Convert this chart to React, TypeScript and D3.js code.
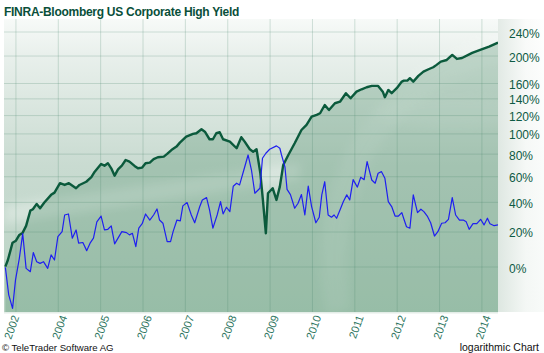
import React from 'react';
import * as d3 from 'd3';

const title = 'FINRA-Bloomberg US Corporate High Yield';
const yTickValues = [0, 20, 40, 60, 80, 100, 120, 140, 160, 200, 240];
const xGridYears = [2003, 2004, 2005, 2006, 2007, 2008, 2009, 2010, 2011, 2012, 2013, 2014];
const xLabelYears = [2002.87, 2004, 2005, 2006, 2007, 2008, 2009, 2010, 2011, 2012, 2013, 2014];
const xLabelTexts = ['2002', '2004', '2005', '2006', '2007', '2008', '2009', '2010', '2011', '2012', '2013', '2014'];

// cumulative performance (%), [decimal year, value]
const greenSeries: [number, number][] = [
  [2002.75, 0.2], [2002.81, 3.7], [2002.92, 13.5], [2003.0, 14.7], [2003.08, 18.2], [2003.16, 19.6],
  [2003.24, 23.9], [2003.34, 34.1], [2003.4, 35.1], [2003.49, 38.9], [2003.57, 35.8], [2003.67, 39.9],
  [2003.83, 45.6], [2003.91, 47.3], [2004.04, 54.7], [2004.15, 53.3], [2004.25, 54.7], [2004.42, 50.7],
  [2004.5, 53.3], [2004.66, 55.9], [2004.78, 59.6], [2004.86, 64.3], [2005.01, 71.0], [2005.09, 69.5],
  [2005.17, 71.7], [2005.25, 67.2], [2005.33, 60.9], [2005.41, 66.3], [2005.5, 69.5], [2005.59, 74.6],
  [2005.68, 73.1], [2005.8, 69.3], [2005.88, 67.2], [2005.98, 67.8], [2006.06, 71.7], [2006.16, 72.2],
  [2006.25, 75.3], [2006.35, 77.1], [2006.49, 77.7], [2006.57, 80.2], [2006.67, 83.9], [2006.79, 87.2],
  [2006.87, 91.1], [2007.02, 97.2], [2007.18, 100.0], [2007.26, 100.7], [2007.38, 104.9], [2007.46, 102.3],
  [2007.57, 94.5], [2007.65, 94.5], [2007.73, 100.7], [2007.81, 101.7], [2007.89, 94.5], [2008.05, 92.1],
  [2008.21, 85.6], [2008.32, 96.6], [2008.4, 92.1], [2008.52, 84.6], [2008.6, 82.3], [2008.68, 84.6],
  [2008.77, 62.9], [2008.83, 41.8], [2008.9, 19.2], [2008.95, 46.8], [2009.06, 50.7], [2009.15, 41.8],
  [2009.23, 52.0], [2009.31, 70.1], [2009.43, 79.2], [2009.58, 90.5], [2009.74, 104.1], [2009.86, 109.6],
  [2009.98, 118.8], [2010.1, 120.8], [2010.18, 122.7], [2010.29, 132.5], [2010.39, 126.5], [2010.53, 134.6],
  [2010.65, 136.5], [2010.79, 147.2], [2010.9, 140.8], [2011.04, 149.2], [2011.16, 152.3], [2011.28, 155.0],
  [2011.4, 156.8], [2011.55, 156.8], [2011.66, 149.2], [2011.71, 142.1], [2011.79, 151.4], [2011.87, 147.2],
  [2011.99, 153.7], [2012.11, 162.6], [2012.16, 164.0], [2012.24, 164.0], [2012.3, 167.3], [2012.38, 162.6],
  [2012.5, 170.5], [2012.62, 176.6], [2012.74, 180.0], [2012.85, 183.0], [2012.93, 186.5], [2013.03, 191.4],
  [2013.17, 193.9], [2013.3, 201.8], [2013.41, 195.5], [2013.53, 197.0], [2013.77, 204.9], [2013.96, 209.6],
  [2014.17, 215.1], [2014.38, 221.7],
];

// rolling performance (%), [decimal year, value]
const blueSeries: [number, number][] = [
  [2002.75, -0.2], [2002.83, -13.5], [2002.92, -19.4], [2002.99, -6.5], [2003.08, 4.6], [2003.16, 19.0],
  [2003.24, -0.7], [2003.34, -2.4], [2003.41, 7.8], [2003.49, 2.8], [2003.57, 1.9], [2003.65, 2.8],
  [2003.75, -0.7], [2003.83, 6.5], [2003.91, 3.7], [2003.99, 17.1], [2004.09, 20.2], [2004.15, 31.1],
  [2004.24, 31.8], [2004.33, 16.2], [2004.42, 21.3], [2004.48, 13.2], [2004.58, 13.6], [2004.67, 8.9],
  [2004.75, 13.2], [2004.83, 16.2], [2004.91, 26.5], [2005.01, 30.4], [2005.09, 21.3], [2005.17, 21.7],
  [2005.25, 23.9], [2005.33, 12.8], [2005.5, 20.2], [2005.61, 19.6], [2005.68, 18.2], [2005.75, 19.2],
  [2005.83, 11.2], [2005.9, 22.4], [2005.98, 25.3], [2006.06, 31.8], [2006.16, 27.7], [2006.25, 31.1],
  [2006.33, 35.3], [2006.39, 27.7], [2006.47, 25.6], [2006.57, 14.1], [2006.65, 14.1], [2006.71, 20.2],
  [2006.8, 27.7], [2006.88, 27.2], [2006.94, 37.5], [2007.04, 39.9], [2007.14, 31.1], [2007.22, 25.9],
  [2007.34, 37.0], [2007.4, 41.8], [2007.5, 43.5], [2007.57, 34.6], [2007.65, 22.4], [2007.75, 31.1],
  [2007.83, 40.6], [2007.89, 31.8], [2007.97, 36.5], [2008.05, 33.4], [2008.13, 52.3], [2008.21, 54.7],
  [2008.28, 53.3], [2008.38, 65.7], [2008.48, 79.2], [2008.56, 65.7], [2008.64, 46.8], [2008.76, 50.7],
  [2008.82, 76.2], [2008.9, 80.8], [2008.99, 84.6], [2009.15, 87.9], [2009.23, 85.6], [2009.27, 79.2],
  [2009.35, 68.5], [2009.4, 49.8], [2009.48, 45.8], [2009.58, 35.8], [2009.66, 39.4], [2009.74, 45.8],
  [2009.82, 31.1], [2009.9, 52.3], [2009.98, 37.0], [2010.08, 25.9], [2010.16, 29.6], [2010.22, 45.6],
  [2010.29, 55.9], [2010.37, 31.1], [2010.45, 29.6], [2010.51, 31.1], [2010.57, 28.9], [2010.65, 34.6],
  [2010.73, 40.6], [2010.81, 45.6], [2010.88, 41.8], [2010.96, 57.6], [2011.06, 51.6], [2011.14, 59.6],
  [2011.22, 57.6], [2011.29, 73.1], [2011.4, 57.3], [2011.48, 54.7], [2011.55, 62.9], [2011.63, 64.3],
  [2011.71, 58.7], [2011.79, 40.6], [2011.87, 37.0], [2011.95, 30.4], [2012.03, 30.4], [2012.11, 32.7],
  [2012.16, 28.2], [2012.22, 23.3], [2012.3, 22.4], [2012.38, 45.6], [2012.48, 32.7], [2012.56, 35.1],
  [2012.63, 33.4], [2012.71, 30.4], [2012.79, 25.9], [2012.88, 17.5], [2012.96, 20.2], [2013.05, 25.6],
  [2013.13, 25.9], [2013.21, 28.2], [2013.3, 43.5], [2013.38, 31.1], [2013.47, 27.7], [2013.56, 27.7],
  [2013.63, 26.5], [2013.7, 21.7], [2013.79, 25.3], [2013.88, 25.3], [2013.97, 28.2], [2014.05, 24.5],
  [2014.13, 28.9], [2014.19, 25.3], [2014.29, 24.0], [2014.38, 24.5],
];

const FONT = '"Liberation Sans", Arial, sans-serif';

export default function App() {
  const W = 544;
  const H = 353;
  const plot = { left: 4, right: 498, top: 19, bottom: 312 };

  const x = d3.scaleLinear().domain([2002.73, 2014.38]).range([4.5, 498]);
  const y = d3.scaleLog().domain([1, 3.4]).range([267, 32]);
  const yv = (p: number) => y(1 + p / 100);

  const line = d3
    .line<[number, number]>()
    .x((d) => x(d[0]))
    .y((d) => yv(d[1]));
  const area = d3
    .area<[number, number]>()
    .x((d) => x(d[0]))
    .y0(plot.bottom)
    .y1((d) => yv(d[1]));

  return (
    <svg
      width={W}
      height={H}
      viewBox={`0 0 ${W} ${H}`}
      style={{ position: 'absolute', left: 0, top: 0, display: 'block', background: '#ffffff' }}
    >
      <defs>
        <linearGradient id="bgGrad" x1="0" y1="0" x2="0" y2="1">
          <stop offset="0" stopColor="#f7faf8" />
          <stop offset="0.12" stopColor="#e9f0ec" />
          <stop offset="0.5" stopColor="#c9dbd1" />
          <stop offset="1" stopColor="#b9d3c3" />
        </linearGradient>
        <linearGradient id="rightGrad" x1="0" y1="0" x2="1" y2="0">
          <stop offset="0" stopColor="#e1e9e4" />
          <stop offset="0.6" stopColor="#fafbfa" />
          <stop offset="1" stopColor="#ffffff" />
        </linearGradient>
        <filter id="blur6" x="-20%" y="-20%" width="140%" height="140%">
          <feGaussianBlur stdDeviation="5" />
        </filter>
        <clipPath id="plotClip">
          <rect x={plot.left} y={plot.top} width={plot.right - plot.left} height={plot.bottom - plot.top} />
        </clipPath>
      </defs>

      <rect x={plot.left} y={plot.top} width={W - plot.left} height={plot.bottom - plot.top} fill="url(#bgGrad)" />
      <rect x={plot.right} y={plot.top} width={W - plot.right} height={plot.bottom - plot.top} fill="url(#rightGrad)" opacity={0.9} />

      <g clipPath="url(#plotClip)">
        {/* decorative swoosh */}
        <path d="M 4 205 L 300 162 L 300 180 L 4 224 Z" fill="#ffffff" opacity={0.3} filter="url(#blur6)" />
        <path d="M 338 312 C 320 190, 362 70, 560 30" stroke="#ffffff" strokeWidth={26} fill="none" opacity={0.14} filter="url(#blur6)" />
        <ellipse cx={455} cy={112} rx={80} ry={16} fill="#ffffff" opacity={0.12} filter="url(#blur6)" />

        <path d={area(greenSeries) || ''} fill="rgb(50,125,85)" opacity={0.25} />

        {xGridYears.map((yr) => (
          <line key={yr} x1={x(yr)} x2={x(yr)} y1={plot.top} y2={plot.bottom} stroke="#3f7f64" strokeOpacity={0.22} strokeWidth={1} />
        ))}
        {yTickValues.map((v) => (
          <line key={v} x1={plot.left} x2={plot.right} y1={yv(v)} y2={yv(v)} stroke="#3f7f64" strokeOpacity={0.22} strokeWidth={1} />
        ))}

        <path d={line(greenSeries) || ''} fill="none" stroke="#0b5a3c" strokeWidth={2.4} strokeLinejoin="round" />
        <path d={line(blueSeries) || ''} fill="none" stroke="#1f1ff0" strokeWidth={1.2} strokeLinejoin="round" />
      </g>

      <rect x={plot.left} y={plot.bottom} width={plot.right - plot.left} height={1.5} fill="#e4ede8" />

      <text x={4} y={16} fontFamily={FONT} fontWeight="bold" fontSize={12} letterSpacing={-0.28} fill="#0a4f3a">
        {title}
      </text>

      {yTickValues.map((v) => (
        <text key={v} x={509} y={yv(v) + 5.5} fontFamily={FONT} fontSize={12} fill="#0d5a44">
          {`${v}%`}
        </text>
      ))}

      {xLabelYears.map((yr, i) => (
        <text
          key={yr}
          transform={`translate(${x(yr) + 9},${317}) rotate(-70)`}
          textAnchor="end"
          fontFamily={FONT}
          fontSize={11}
          fill="#2d7560"
        >
          {xLabelTexts[i]}
        </text>
      ))}

      <text x={2} y={350.5} fontFamily={FONT} fontSize={9.6} fill="#111111">
        © TeleTrader Software AG
      </text>
      <text x={539} y={350.5} textAnchor="end" fontFamily={FONT} fontSize={10.5} fill="#111111">
        logarithmic Chart
      </text>
    </svg>
  );
}
